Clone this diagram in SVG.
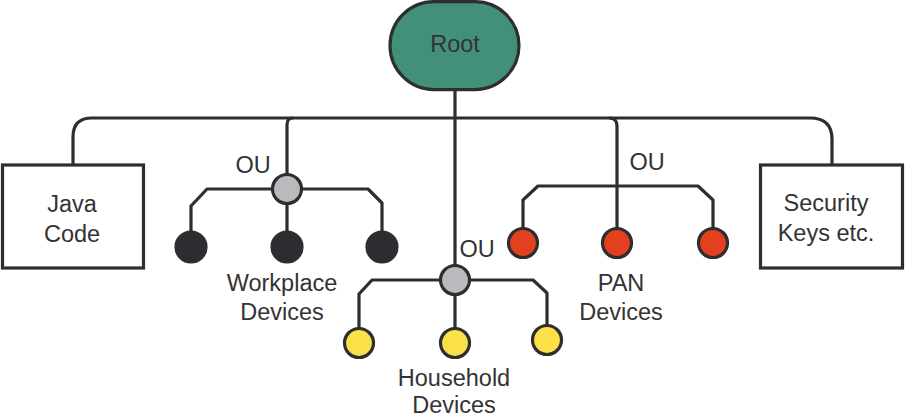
<svg xmlns="http://www.w3.org/2000/svg" width="906" height="418" viewBox="0 0 906 418">
<style>
text{font-family:"Liberation Sans",Arial,sans-serif;font-size:23.5px;fill:#333;text-anchor:middle}
.ln{fill:none;stroke:#2e2e2e;stroke-width:3.2;stroke-linejoin:round}
.box{fill:#fff;stroke:#2e2e2e;stroke-width:3.2}
.nd{stroke:#2e2e2e;stroke-width:3.2}
.gray{fill:#b9babd}
.dark{fill:#2b2d33}
.red{fill:#e2401e}
.yel{fill:#fbe04a}
</style>
<rect width="906" height="418" fill="#fff"/>
<g id="connectors">
<path class="ln" d="M73,165 V137 Q73,118 92,118 H810 Q832,118 832,139 V165"/>
<path class="ln" d="M455,90 V265"/>
<path class="ln" d="M293,118 Q287,118 287,125 V174"/>
<path class="ln" d="M609,118 Q617,118 617,126 V228"/>
<path class="ln" d="M191,232 V206 L207,189 H368 L382,203 V232 M287,204 V232"/>
<path class="ln" d="M359,328 V294 L372,280 H533 L547,293 V325 M455,295 V328"/>
<path class="ln" d="M523,228 V200 L538,186 H698 L713,200 V228"/>
</g>
<g id="root">
<rect x="390" y="1.6" width="129" height="88" rx="44" fill="#429079" stroke="#2e2e2e" stroke-width="3.2"/>
<text x="455" y="52">Root</text>
</g>
<g id="java">
<rect class="box" x="2.5" y="165" width="141" height="103"/>
<text x="72" y="212">Java</text>
<text x="72" y="242">Code</text>
</g>
<g id="security">
<rect class="box" x="760.5" y="165" width="142" height="103"/>
<text x="826" y="211">Security</text>
<text x="826" y="241">Keys etc.</text>
</g>
<g id="ou-workplace">
<circle class="nd gray" cx="287" cy="189" r="14.5"/>
<text x="253" y="173">OU</text>
</g>
<g id="workplace-devices">
<circle class="nd dark" cx="191" cy="247" r="15"/>
<circle class="nd dark" cx="287" cy="247" r="15"/>
<circle class="nd dark" cx="382" cy="247" r="15"/>
<text x="282" y="291">Workplace</text>
<text x="282" y="320">Devices</text>
</g>
<g id="ou-household">
<circle class="nd gray" cx="455" cy="280" r="14.5"/>
<text x="477" y="257">OU</text>
</g>
<g id="household-devices">
<circle class="nd yel" cx="359" cy="343" r="14.5"/>
<circle class="nd yel" cx="455" cy="343" r="14.5"/>
<circle class="nd yel" cx="547" cy="340" r="14.5"/>
<text x="454" y="386">Household</text>
<text x="454" y="413">Devices</text>
</g>
<g id="ou-pan">
<text x="647" y="170">OU</text>
</g>
<g id="pan-devices">
<circle class="nd red" cx="523" cy="243" r="14.5"/>
<circle class="nd red" cx="617" cy="243" r="14.5"/>
<circle class="nd red" cx="713" cy="243" r="14.5"/>
<text x="621" y="291">PAN</text>
<text x="621" y="320">Devices</text>
</g>
</svg>
